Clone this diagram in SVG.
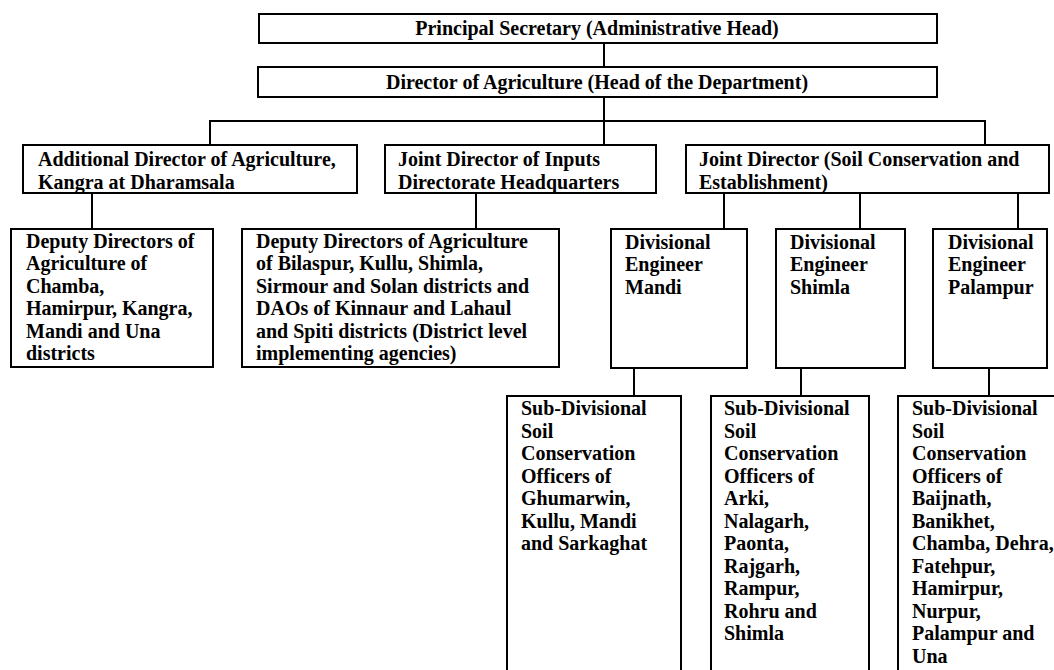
<svg xmlns="http://www.w3.org/2000/svg" width="1054" height="670" viewBox="0 0 1054 670">
<style>
.box{fill:#fff;stroke:#000;stroke-width:2}
.ln{stroke:#000;stroke-width:2;fill:none}
text{font-family:"Liberation Serif","Times New Roman",serif;font-weight:bold;font-size:20px;fill:#000}
</style>
<rect width="1054" height="670" fill="#fff"/>
<g id="connectors">
<line class="ln" x1="604" y1="43" x2="604" y2="67"/>
<line class="ln" x1="604" y1="97" x2="604" y2="145"/>
<line class="ln" x1="209" y1="121" x2="986" y2="121"/>
<line class="ln" x1="210" y1="120" x2="210" y2="145"/>
<line class="ln" x1="985" y1="120" x2="985" y2="145"/>
<line class="ln" x1="92" y1="193" x2="92" y2="229"/>
<line class="ln" x1="476" y1="193" x2="476" y2="229"/>
<line class="ln" x1="724" y1="193" x2="724" y2="229"/>
<line class="ln" x1="860" y1="193" x2="860" y2="229"/>
<line class="ln" x1="1018" y1="193" x2="1018" y2="229"/>
<line class="ln" x1="634" y1="368" x2="634" y2="396"/>
<line class="ln" x1="801" y1="368" x2="801" y2="396"/>
<line class="ln" x1="989" y1="368" x2="989" y2="396"/>
</g>
<g id="principal">
<rect class="box" x="259" y="14" width="678" height="29"/>
<text x="597" y="35" text-anchor="middle">Principal Secretary (Administrative Head)</text>
</g>
<g id="director">
<rect class="box" x="258" y="67" width="679" height="30"/>
<text x="597" y="89" text-anchor="middle">Director of Agriculture (Head of the Department)</text>
</g>
<g id="additional">
<rect class="box" x="23" y="145" width="334" height="48"/>
<text x="38" y="166">Additional Director of Agriculture,</text>
<text x="38" y="188.5">Kangra at Dharamsala</text>
</g>
<g id="inputs">
<rect class="box" x="385" y="145" width="271" height="48"/>
<text x="398" y="166">Joint Director of Inputs</text>
<text x="398" y="188.5">Directorate Headquarters</text>
</g>
<g id="soil">
<rect class="box" x="686" y="145" width="363" height="48"/>
<text x="699" y="166">Joint Director (Soil Conservation and</text>
<text x="699" y="188.5">Establishment)</text>
</g>
<g id="deputy1">
<rect class="box" x="11" y="229" width="202" height="138"/>
<text x="26">
<tspan x="26" y="247.5">Deputy Directors of</tspan>
<tspan x="26" y="270">Agriculture of</tspan>
<tspan x="26" y="292.5">Chamba,</tspan>
<tspan x="26" y="315">Hamirpur, Kangra,</tspan>
<tspan x="26" y="337.5">Mandi and Una</tspan>
<tspan x="26" y="360">districts</tspan>
</text>
</g>
<g id="deputy2">
<rect class="box" x="242" y="229" width="317" height="138"/>
<text x="256">
<tspan x="256" y="247.5">Deputy Directors of Agriculture</tspan>
<tspan x="256" y="270">of Bilaspur, Kullu, Shimla,</tspan>
<tspan x="256" y="292.5">Sirmour and Solan districts and</tspan>
<tspan x="256" y="315">DAOs of Kinnaur and Lahaul</tspan>
<tspan x="256" y="337.5">and Spiti districts (District level</tspan>
<tspan x="256" y="360">implementing agencies)</tspan>
</text>
</g>
<g id="de-mandi">
<rect class="box" x="611" y="229" width="136" height="139"/>
<text x="625">
<tspan x="625" y="248.5">Divisional</tspan>
<tspan x="625" y="271">Engineer</tspan>
<tspan x="625" y="293.5">Mandi</tspan>
</text>
</g>
<g id="de-shimla">
<rect class="box" x="776" y="229" width="129" height="139"/>
<text x="790">
<tspan x="790" y="248.5">Divisional</tspan>
<tspan x="790" y="271">Engineer</tspan>
<tspan x="790" y="293.5">Shimla</tspan>
</text>
</g>
<g id="de-palampur">
<rect class="box" x="933" y="229" width="114" height="139"/>
<text x="948">
<tspan x="948" y="248.5">Divisional</tspan>
<tspan x="948" y="271">Engineer</tspan>
<tspan x="948" y="293.5">Palampur</tspan>
</text>
</g>
<g id="sdo-mandi">
<rect class="box" x="507" y="396" width="174" height="290"/>
<text x="521">
<tspan x="521" y="415">Sub-Divisional</tspan>
<tspan x="521" y="437.5">Soil</tspan>
<tspan x="521" y="460">Conservation</tspan>
<tspan x="521" y="482.5">Officers of</tspan>
<tspan x="521" y="505">Ghumarwin,</tspan>
<tspan x="521" y="527.5">Kullu, Mandi</tspan>
<tspan x="521" y="550">and Sarkaghat</tspan>
</text>
</g>
<g id="sdo-shimla">
<rect class="box" x="711" y="396" width="158" height="290"/>
<text x="724">
<tspan x="724" y="415">Sub-Divisional</tspan>
<tspan x="724" y="437.5">Soil</tspan>
<tspan x="724" y="460">Conservation</tspan>
<tspan x="724" y="482.5">Officers of</tspan>
<tspan x="724" y="505">Arki,</tspan>
<tspan x="724" y="527.5">Nalagarh,</tspan>
<tspan x="724" y="550">Paonta,</tspan>
<tspan x="724" y="572.5">Rajgarh,</tspan>
<tspan x="724" y="595">Rampur,</tspan>
<tspan x="724" y="617.5">Rohru and</tspan>
<tspan x="724" y="640">Shimla</tspan>
</text>
</g>
<g id="sdo-palampur">
<rect class="box" x="898" y="396" width="170" height="290"/>
<text x="912">
<tspan x="912" y="415">Sub-Divisional</tspan>
<tspan x="912" y="437.5">Soil</tspan>
<tspan x="912" y="460">Conservation</tspan>
<tspan x="912" y="482.5">Officers of</tspan>
<tspan x="912" y="505">Baijnath,</tspan>
<tspan x="912" y="527.5">Banikhet,</tspan>
<tspan x="912" y="550">Chamba, Dehra,</tspan>
<tspan x="912" y="572.5">Fatehpur,</tspan>
<tspan x="912" y="595">Hamirpur,</tspan>
<tspan x="912" y="617.5">Nurpur,</tspan>
<tspan x="912" y="640">Palampur and</tspan>
<tspan x="912" y="662.5">Una</tspan>
</text>
</g>
</svg>
